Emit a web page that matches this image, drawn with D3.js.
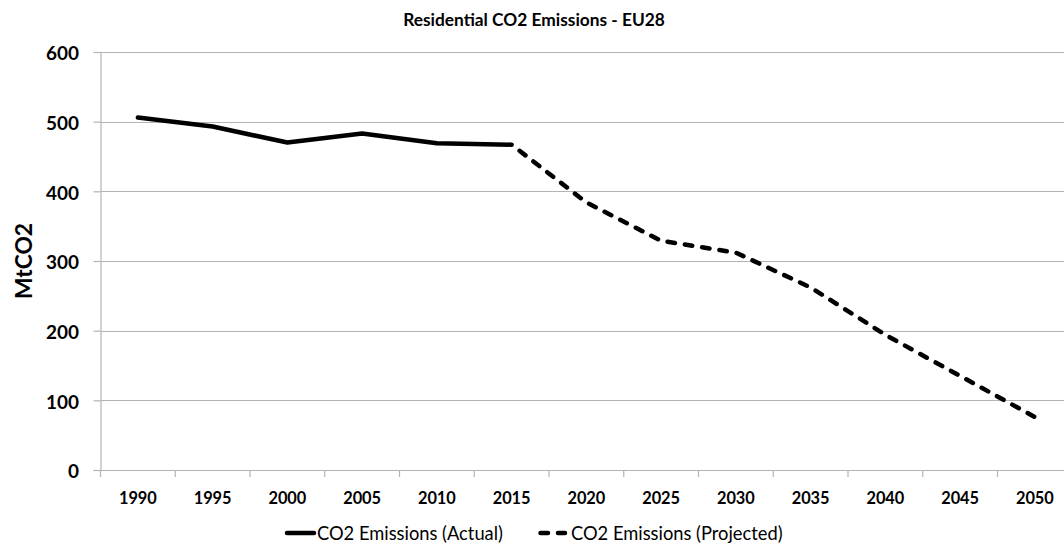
<!DOCTYPE html>
<html><head><meta charset="utf-8">
<script src="https://cdn.jsdelivr.net/npm/d3@7"></script>
<style>html,body{margin:0;padding:0;background:#fff;}svg{display:block;}</style>
</head><body>
<svg id="chart" width="1064" height="544"></svg>
<script>
const years = ["1990","1995","2000","2005","2010","2015","2020","2025","2030","2035","2040","2045","2050"];
const actualYears = ["1990","1995","2000","2005","2010","2015"];
const actualValues = [506, 493, 470, 483, 469, 467];
const projYears = ["2015","2020","2025","2030","2035","2040","2045","2050"];
const projValues = [467, 384, 329, 312, 262, 194, 135, 76];
const yTicks = [0, 100, 200, 300, 400, 500, 600];
const title = "Residential CO2 Emissions - EU28";
const yTitle = "MtCO2";
const seriesNames = ["CO2 Emissions (Actual)", "CO2 Emissions (Projected)"];

const svg = d3.select("#chart");
const mLeft = 100.5, band = 74.75, mTop = 52, mBottom = 470;
const x = d3.scaleBand().domain(years).range([mLeft, mLeft + band * years.length]).padding(0);
const y = d3.scaleLinear().domain([0, 600]).range([mBottom, mTop]);
const grid = "#b4b4b4";
const font = "Lato, 'Open Sans', sans-serif";

// size a font so that a sample text has the wanted width
function fitSize(sample, weight, target) {
  const t = svg.append("text").attr("font-family", font).attr("font-weight", weight)
    .attr("font-size", 20).text(sample);
  const w = t.node().getComputedTextLength();
  t.remove();
  return 20 * target / w;
}
const titleSize = fitSize(title, "bold", 262);
const xLabSize = fitSize("1990", "bold", 38);
const yLabSize = fitSize("300", "bold", 33);
const yTitleSize = fitSize(yTitle, "bold", 76);
const legSize = fitSize(seriesNames[0], "normal", 186);

// gridlines
svg.append("g").selectAll("line").data(yTicks.filter(d => d > 0)).join("line")
  .attr("x1", mLeft).attr("x2", 1064)
  .attr("y1", d => Math.round(y(d)) + 0.5).attr("y2", d => Math.round(y(d)) + 0.5)
  .attr("stroke", grid).attr("stroke-width", 1.2);

// y axis
const yAxis = svg.append("g").attr("transform", `translate(${mLeft},0)`)
  .call(d3.axisLeft(y).tickValues(yTicks).tickSize(7).tickPadding(14.5));
yAxis.select(".domain").attr("stroke", grid).attr("stroke-width", 1.2);
yAxis.selectAll(".tick line").attr("stroke", grid).attr("stroke-width", 1.2);
yAxis.selectAll("text").attr("font-family", font).attr("font-weight", "bold")
  .attr("font-size", yLabSize).attr("fill", "#000").attr("dy", "0.42em");

// x axis (ticks between categories)
const xAxisG = svg.append("g").attr("transform", `translate(0,${mBottom})`);
xAxisG.append("line").attr("x1", mLeft).attr("x2", 1064).attr("y1", 0.5).attr("y2", 0.5)
  .attr("stroke", grid).attr("stroke-width", 1.2);
const boundaries = years.map(d => x(d)).concat([x(years[years.length-1]) + x.bandwidth()]);
xAxisG.selectAll("line.tk").data(boundaries).join("line").attr("class","tk")
  .attr("x1", d => d).attr("x2", d => d).attr("y1", 0).attr("y2", 7)
  .attr("stroke", grid).attr("stroke-width", 1.2);
xAxisG.selectAll("text").data(years).join("text")
  .attr("x", d => x(d) + x.bandwidth()/2).attr("y", 34)
  .attr("text-anchor", "middle").attr("font-family", font).attr("font-weight", "bold")
  .attr("font-size", xLabSize).attr("fill", "#000").text(d => d);

// lines
const line = d3.line().x(d => x(d[0]) + x.bandwidth()/2).y(d => y(d[1]));
svg.append("path").datum(actualYears.map((d,i) => [d, actualValues[i]]))
  .attr("d", line).attr("fill", "none").attr("stroke", "#000").attr("stroke-width", 4.5)
  .attr("stroke-linejoin", "round").attr("stroke-linecap", "round");
svg.append("path").datum(projYears.map((d,i) => [d, projValues[i]]))
  .attr("d", line).attr("fill", "none").attr("stroke", "#000").attr("stroke-width", 4.5)
  .attr("stroke-linejoin", "round").attr("stroke-linecap", "round")
  .attr("stroke-dasharray", "7.5,10").attr("stroke-dashoffset", -10);

// title
svg.append("text").attr("x", 534).attr("y", 26).attr("text-anchor", "middle")
  .attr("font-family", font).attr("font-weight", "bold").attr("font-size", titleSize)
  .attr("fill", "#000").text(title);

// y title
svg.append("text").attr("transform", "translate(32,261) rotate(-90)").attr("text-anchor", "middle")
  .attr("font-family", font).attr("font-weight", "bold").attr("font-size", yTitleSize)
  .attr("fill", "#000").text(yTitle);

// legend
const leg = svg.append("g").attr("font-family", font).attr("font-size", legSize).attr("fill", "#000");
leg.append("line").attr("x1", 287).attr("x2", 314).attr("y1", 533).attr("y2", 533)
  .attr("stroke", "#000").attr("stroke-width", 4.5).attr("stroke-linecap", "round");
leg.append("text").attr("x", 317).attr("y", 539.5).text(seriesNames[0]);
leg.append("line").attr("x1", 540.5).attr("x2", 565).attr("y1", 533).attr("y2", 533)
  .attr("stroke", "#000").attr("stroke-width", 4.5).attr("stroke-linecap", "round")
  .attr("stroke-dasharray", "7.5,10");
leg.append("text").attr("x", 571).attr("y", 539.5).text(seriesNames[1]);
</script>
</body></html>
